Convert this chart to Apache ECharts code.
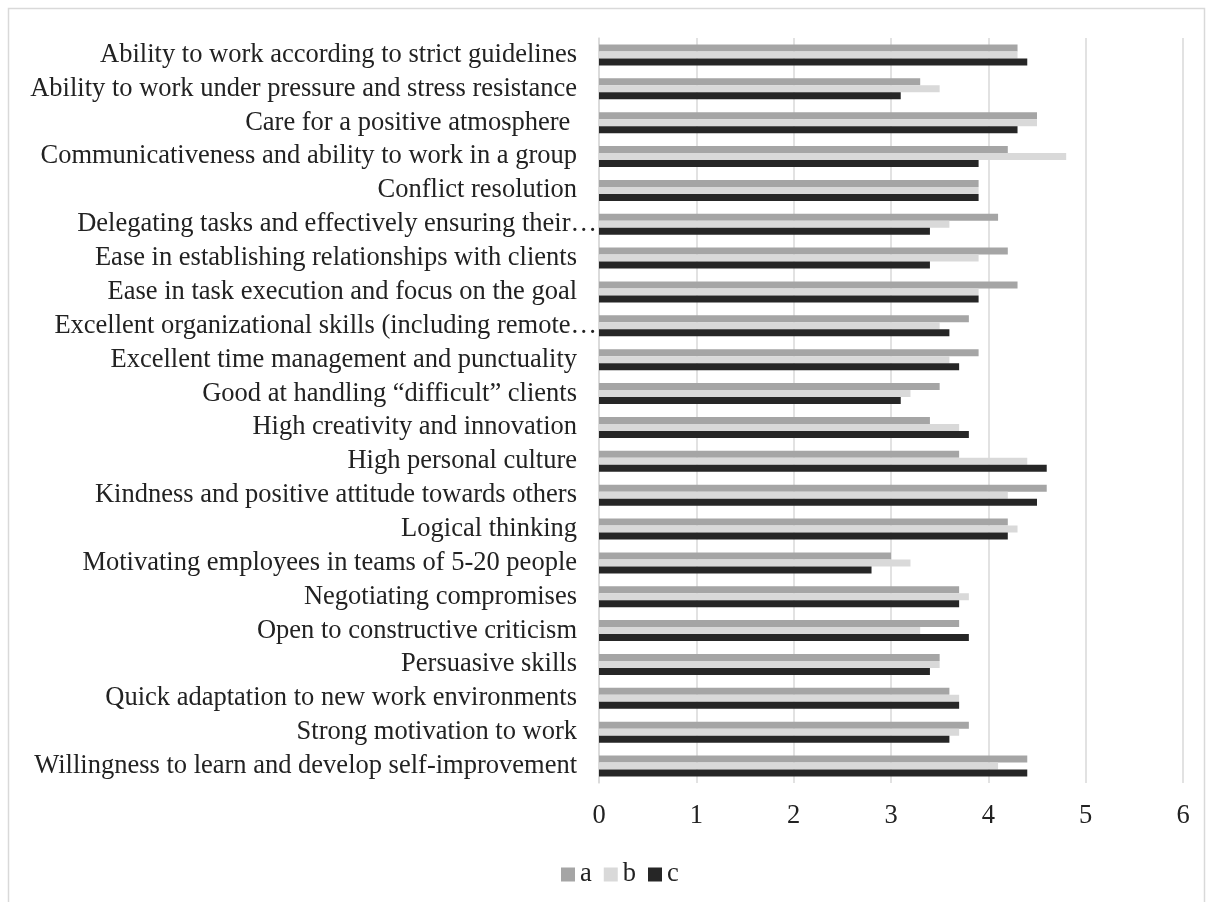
<!DOCTYPE html>
<html>
<head>
<meta charset="utf-8">
<script src="https://cdn.jsdelivr.net/npm/echarts@6/dist/echarts.min.js"></script>
<style>
  html, body { margin: 0; padding: 0; background: #fff; }
  #chart { width: 1214px; height: 902px; }
</style>
</head>
<body>
<div id="chart"></div>
<script>
const categories = [
  'Ability to work according to strict guidelines',
  'Ability to work under pressure and stress resistance',
  'Care for a positive atmosphere ',
  'Communicativeness and ability to work in a group',
  'Conflict resolution',
  'Delegating tasks and effectively ensuring their…',
  'Ease in establishing relationships with clients',
  'Ease in task execution and focus on the goal',
  'Excellent organizational skills (including remote…',
  'Excellent time management and punctuality',
  'Good at handling “difficult” clients',
  'High creativity and innovation',
  'High personal culture',
  'Kindness and positive attitude towards others',
  'Logical thinking',
  'Motivating employees in teams of 5-20 people',
  'Negotiating compromises',
  'Open to constructive criticism',
  'Persuasive skills',
  'Quick adaptation to new work environments',
  'Strong motivation to work',
  'Willingness to learn and develop self-improvement'
];

const seriesA = [4.3, 3.3, 4.5, 4.2, 3.9, 4.1, 4.2, 4.3, 3.8, 3.9, 3.5, 3.4, 3.7, 4.6, 4.2, 3.0, 3.7, 3.7, 3.5, 3.6, 3.8, 4.4];
const seriesB = [4.3, 3.5, 4.5, 4.8, 3.9, 3.6, 3.9, 3.9, 3.5, 3.6, 3.2, 3.7, 4.4, 4.2, 4.3, 3.2, 3.8, 3.3, 3.5, 3.7, 3.7, 4.1];
const seriesC = [4.4, 3.1, 4.3, 3.9, 3.9, 3.4, 3.4, 3.9, 3.6, 3.7, 3.1, 3.8, 4.6, 4.5, 4.2, 2.8, 3.7, 3.8, 3.4, 3.7, 3.6, 4.4];

const seriesNames = ['a', 'b', 'c'];
const seriesColors = ['#a5a5a5', '#d9d9d9', '#262626'];

const font = "'Liberation Serif', 'DejaVu Serif', serif";
const fs = 26.5;

const chart = echarts.init(document.getElementById('chart'));

chart.setOption({
  animation: false,
  backgroundColor: '#fff',
  textStyle: { fontFamily: font },
  graphic: [
    {
      type: 'rect',
      shape: { x: 8.5, y: 8.5, width: 1196, height: 920 },
      style: { fill: 'none', stroke: '#d9d9d9', lineWidth: 1.5 },
      silent: true
    }
  ],
  legend: {
    left: 556,
    top: 856,
    icon: 'rect',
    itemWidth: 14,
    itemHeight: 14,
    itemGap: 12,
    textStyle: { fontFamily: font, fontSize: fs, color: '#222' },
    data: seriesNames
  },
  grid: {
    left: 599,
    right: 31,
    top: 38,
    bottom: 119
  },
  xAxis: {
    type: 'value',
    min: 0,
    max: 6,
    interval: 1,
    axisLine: { show: false },
    axisTick: { show: false },
    axisLabel: { fontFamily: font, fontSize: fs, color: '#222', margin: 20 },
    splitLine: { lineStyle: { color: '#d9d9d9', width: 1.5 } }
  },
  yAxis: {
    type: 'category',
    inverse: true,
    data: categories,
    axisLine: { show: true, lineStyle: { color: '#d9d9d9', width: 1.5 } },
    axisTick: { show: false },
    axisLabel: {
      fontFamily: font,
      fontSize: fs,
      color: '#222',
      margin: 2,
      interval: 0,
      // truncated labels run up to the axis, the others keep a gap
      formatter: v => (v.endsWith('…') ? v : v + '{s|}'),
      rich: { s: { width: 20 } }
    }
  },
  series: [seriesA, seriesB, seriesC].map((vals, i) => ({
    name: seriesNames[i],
    type: 'bar',
    data: vals,
    barWidth: 7,
    barGap: '0%',
    itemStyle: { color: seriesColors[i] }
  }))
});
</script>
</body>
</html>
